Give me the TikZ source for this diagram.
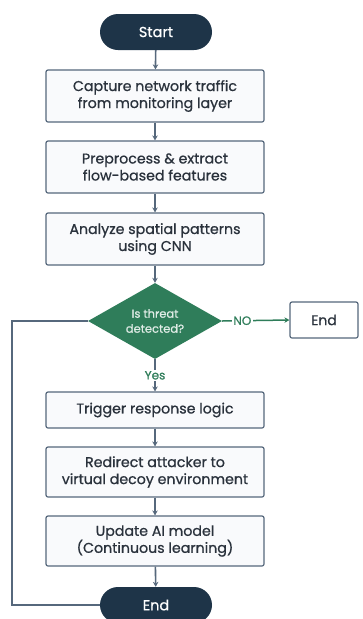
\documentclass[tikz,border=0pt]{standalone}
\usepackage{fontspec}
\setmainfont{Poppins}[FakeBold=0.8]
\usetikzlibrary{shapes.geometric,arrows.meta}
\definecolor{navy}{HTML}{1E3448}
\definecolor{grn}{HTML}{2F7D5A}
\definecolor{edgec}{HTML}{56687C}
\definecolor{boxfill}{HTML}{F9FAFC}
\definecolor{txt}{HTML}{2A323C}
\begin{document}
\begin{tikzpicture}[x=1pt,y=-1pt,
  pill/.style={rectangle,rounded corners=18pt,fill=navy,text=white,minimum width=112pt,minimum height=36pt,font=\fontsize{14.5}{16}\selectfont},
  procbox/.style={rectangle,draw=edgec,line width=1.2pt,fill=boxfill,rounded corners=2pt,minimum width=218pt,align=center,text=txt,font=\fontsize{14.2}{17}\selectfont},
  decision/.style={diamond,aspect=1.76,fill=grn,text=white!85!grn,minimum width=134pt,minimum height=76pt,inner sep=0pt,align=center,font=\fontsize{11.5}{15}\selectfont},
  flow/.style={draw=edgec,line width=1.6pt,-{Stealth[length=5pt,width=5.5pt]}},
  lbl/.style={text=grn,fill=white,font=\fontsize{12}{14}\selectfont,inner sep=1.5pt}]
\useasboundingbox[fill=white] (0,0) rectangle (363,619);
\node[pill] (start) at (156,32) {Start};
\node[procbox,minimum height=52pt] (b1) at (155,96) {Capture network traffic\\from monitoring layer};
\node[procbox,minimum height=52pt] (b2) at (155,167) {Preprocess \& extract\\flow-based features};
\node[procbox,minimum height=52pt] (b3) at (155,239) {Analyze spatial patterns\\using CNN};
\node[decision] (dec) at (155,321) {Is threat\\detected?};
\node[rectangle,draw=edgec,line width=1.2pt,fill=white,rounded corners=2pt,minimum width=68pt,minimum height=36pt,text=txt,font=\fontsize{14}{16}\selectfont] (endr) at (324,320) {End};
\node[procbox,minimum height=36pt] (b4) at (155,410) {Trigger response logic};
\node[procbox,minimum height=50pt] (b5) at (155,472) {Redirect attacker to\\virtual decoy environment};
\node[procbox,minimum height=50pt] (b6) at (155,541) {Update AI model\\(Continuous learning)};
\node[pill] (endb) at (156,605) {End};
\coordinate (lc) at (12,321);
\draw[flow] (start) -- (b1);
\draw[flow] (b1) -- (b2);
\draw[flow] (b2) -- (b3);
\draw[flow] (b3) -- (dec);
\draw[draw=grn,line width=1.5pt,-{Stealth[length=5pt,width=5.5pt]}] (dec.east) -- node[lbl,pos=0.3]{NO} (endr.west);
\draw[flow] (dec.south) -- node[lbl]{Yes} (b4);
\draw[flow] (b4) -- (b5);
\draw[flow] (b5) -- (b6);
\draw[flow] (b6) -- (endb);
\draw[draw=edgec,line width=1.6pt] (dec.west) -- (lc) |- (endb.west);
\end{tikzpicture}
\end{document}
